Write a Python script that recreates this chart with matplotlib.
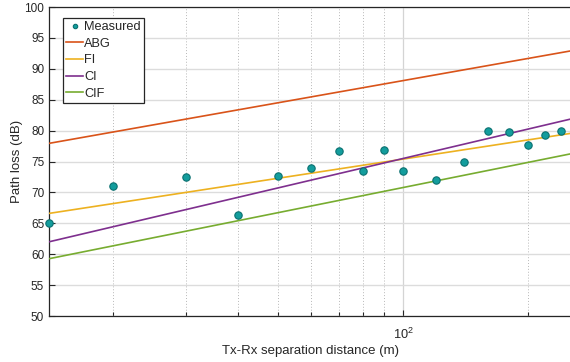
import numpy as np
import matplotlib
matplotlib.use("Agg")
import matplotlib.pyplot as plt
from matplotlib.ticker import NullFormatter, FixedLocator, FixedFormatter

plt.rcParams['font.family'] = ['Liberation Sans', 'DejaVu Sans']
plt.rcParams['mathtext.default'] = 'regular'

# Measured data
dist_m = [14, 20, 30, 40, 50, 60, 70, 80, 90, 100, 120, 140, 160, 180, 200, 220, 240]
pl_db = [65.0, 71.0, 72.5, 66.4, 72.6, 74.0, 76.7, 73.4, 76.9, 73.4, 72.0, 75.0, 80.0, 79.8, 77.7, 79.3, 80.0]

# Model fits: PL = intercept + slope*log10(d)
model_names = ["ABG", "FI", "CI", "CIF"]
model_intercept = [64.3, 54.8, 43.9, 43.8]
model_slope = [11.9, 10.3, 15.8, 13.5]
model_colors = ["#D95319", "#EDB120", "#7E2F8E", "#77AC30"]

fig = plt.figure(figsize=(5.70, 3.62), dpi=100)
ax = fig.add_axes([0.086, 0.127, 0.9175, 0.8536])

xlo, xhi = 14, 255
d = np.logspace(np.log10(xlo), np.log10(xhi), 200)

ax.plot(dist_m, pl_db, 'o', color='#139d9d', markeredgecolor='#0a7070',
        markersize=5.3, markeredgewidth=0.8, label='Measured', clip_on=False, zorder=5)
for name, b, s, c in zip(model_names, model_intercept, model_slope, model_colors):
    ax.plot(d, b + s*np.log10(d), color=c, lw=1.2, label=name, zorder=4)

ax.set_xscale('log')
ax.set_xlim(xlo, xhi)
ax.set_ylim(50, 100)
ax.set_yticks(np.arange(50, 101, 5))
ax.xaxis.set_major_locator(FixedLocator([100]))
ax.xaxis.set_major_formatter(FixedFormatter([r'10$^{2}$']))
ax.xaxis.set_minor_locator(FixedLocator([20, 30, 40, 50, 60, 70, 80, 90, 200]))
ax.xaxis.set_minor_formatter(NullFormatter())

ax.grid(True, which='major', axis='y', color='#dcdcdc', lw=1.0, ls='-')
ax.grid(True, which='major', axis='x', color='#d4d4d4', lw=0.9, ls='-')
ax.grid(True, which='minor', axis='x', color='#b8b8b8', lw=0.7, ls=(0, (1, 2)))
ax.set_axisbelow(True)

ax.tick_params(axis='both', which='both', direction='in', colors='#262626',
               labelsize=8.5, top=False, right=False)
ax.tick_params(which='major', length=4, width=0.8)
ax.tick_params(which='minor', length=3, width=0.8)
ax.tick_params(axis='x', which='major', pad=8, labelsize=9.2)
ax.tick_params(axis='y', which='major', pad=3.5)
for sp in ax.spines.values():
    sp.set_color('#262626')
    sp.set_linewidth(0.9)

ax.set_xlabel('Tx-Rx separation distance (m)', fontsize=9.5, color='#262626', labelpad=2)
ax.set_ylabel('Path loss (dB)', fontsize=9.5, color='#262626', labelpad=1)

leg = ax.legend(loc='upper left', bbox_to_anchor=(0.027, 0.965), fontsize=9.2,
                frameon=True, fancybox=False, edgecolor='#262626', framealpha=1,
                borderpad=0.25, labelspacing=0.37, handlelength=1.3, handletextpad=0.1,
                borderaxespad=0, markerscale=0.6)
leg.get_frame().set_linewidth(0.9)
for t in leg.get_texts():
    t.set_color('#262626')

fig.savefig('out.png', dpi=100)
